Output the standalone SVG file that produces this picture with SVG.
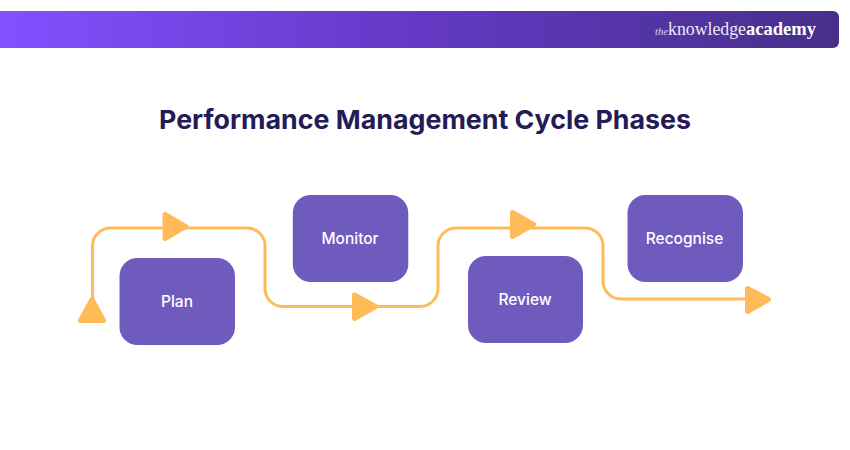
<svg xmlns="http://www.w3.org/2000/svg" width="850" height="450" viewBox="0 0 850 450">
<defs>
<linearGradient id="bar" x1="0" y1="0" x2="1" y2="0"><stop offset="0" stop-color="#8350FF"/><stop offset="0.5" stop-color="#6339C4"/><stop offset="1" stop-color="#47308A"/></linearGradient>
</defs>
<style>
.box{fill:#6F5ABD}
.lbl{font-family:"Inter","Open Sans",sans-serif;font-size:15.5px;font-weight:500;fill:#fff;text-anchor:middle}
.line{fill:none;stroke:#FFBB58;stroke-width:3}
.head{fill:#FFBB58;stroke:#FFBB58;stroke-width:5;stroke-linejoin:round}
.logo{font-family:"Liberation Serif",serif;fill:#fff}
</style>
<rect width="850" height="450" fill="#fff"/>
<g id="header">
<path d="M0 11H833a6 6 0 0 1 6 6V42a6 6 0 0 1-6 6H0Z" fill="url(#bar)"/>
<text class="logo" x="655" y="35" font-size="11" font-style="italic" opacity="0.75" textLength="13" lengthAdjust="spacingAndGlyphs">the</text>
<text class="logo" x="668" y="35" font-size="18" opacity="0.9" textLength="78" lengthAdjust="spacingAndGlyphs">knowledge</text>
<text class="logo" x="746" y="35" font-size="18" font-weight="700" textLength="70" lengthAdjust="spacingAndGlyphs">academy</text>
</g>
<text id="title" x="425" y="129" text-anchor="middle" font-family="Inter,'Open Sans',sans-serif" font-size="26" font-weight="700" fill="#241B57" textLength="532" lengthAdjust="spacingAndGlyphs">Performance Management Cycle Phases</text>
<g id="connectors">
<path class="line" d="M92.5 305V246a18 18 0 0 1 18-18H247a18 18 0 0 1 18 18V288.500a18 18 0 0 0 18 18H420a18 18 0 0 0 18-18V246a18 18 0 0 1 18-18H585a18 18 0 0 1 18 18V281a18 18 0 0 0 18 18H750"/>
<path class="head" d="M92 299.500 80.500 320.500H103.500Z"/>
<path class="head" d="M165 214.500 185.500 226.500 165 238.500Z"/>
<path class="head" d="M354.500 295 375.500 306.500 354.500 318.500Z"/>
<path class="head" d="M512.500 212.500 533.500 224.500 512.500 236.500Z"/>
<path class="head" d="M747.500 288.500 768.500 299.500 747.500 311.500Z"/>
</g>
<g id="plan"><rect class="box" x="119.500" y="258" width="115.500" height="87" rx="18"/><text class="lbl" x="177" y="307">Plan</text></g>
<g id="monitor"><rect class="box" x="292.800" y="195" width="115.500" height="87" rx="18"/><text class="lbl" x="350" y="244">Monitor</text></g>
<g id="review"><rect class="box" x="468" y="256" width="115" height="87" rx="18"/><text class="lbl" x="525" y="305">Review</text></g>
<g id="recognise"><rect class="box" x="627.500" y="195" width="115.500" height="87" rx="18"/><text class="lbl" x="684.500" y="244">Recognise</text></g>
</svg>
